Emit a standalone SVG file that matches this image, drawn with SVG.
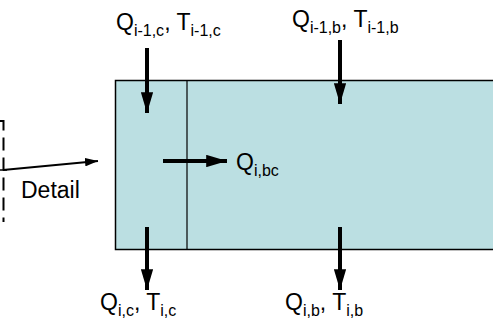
<svg xmlns="http://www.w3.org/2000/svg" width="493" height="325" viewBox="0 0 493 325">
<style>
text{font-family:"Liberation Sans",Arial,sans-serif;fill:#000}
.lbl{font-size:23px}
.sub{font-size:16px}
.thick{stroke:#000;stroke-width:4;fill:none}
.thin{stroke:#000;stroke-width:2;fill:none}
</style>
<defs>
<marker id="ah" viewBox="0 0 10 10" refX="10" refY="5" markerWidth="5.2" markerHeight="3.1" orient="auto" markerUnits="strokeWidth" preserveAspectRatio="none"><path d="M0,0L10,5L0,10z" fill="#000"/></marker>
<marker id="ahs" viewBox="0 0 10 10" refX="10" refY="5" markerWidth="6.5" markerHeight="4.2" orient="auto" markerUnits="strokeWidth" preserveAspectRatio="none"><path d="M0,0L10,5L0,10z" fill="#000"/></marker>
</defs>
<g id="volume">
<rect x="115.5" y="80.5" width="390" height="169" fill="#BBDFE2" stroke="#000" stroke-width="1.5"/>
<line x1="187" y1="80.5" x2="187" y2="249.5" stroke="#000" stroke-width="1.2"/>
</g>
<g id="detail-box">
<path d="M0,121H3.5V222" fill="none" stroke="#000" stroke-width="2" stroke-dasharray="13,7"/>
<line x1="0" y1="170" x2="7" y2="170" stroke="#000" stroke-width="1.5"/>
</g>
<g id="connectors">
<line class="thick" x1="147" y1="48" x2="147" y2="113" marker-end="url(#ah)"/>
<line class="thick" x1="340" y1="40" x2="340" y2="104" marker-end="url(#ah)"/>
<line class="thick" x1="147" y1="227" x2="147" y2="290" marker-end="url(#ah)"/>
<line class="thick" x1="340" y1="227" x2="340" y2="290" marker-end="url(#ah)"/>
<line class="thick" x1="163" y1="161" x2="227" y2="161" marker-end="url(#ah)"/>
<line class="thin" x1="3" y1="170" x2="98" y2="161" marker-end="url(#ahs)"/>
</g>
<g id="labels">
<text class="lbl" x="116" y="30">Q<tspan class="sub" dy="6">i-1,c</tspan><tspan dy="-6">, T</tspan><tspan class="sub" dy="6">i-1,c</tspan></text>
<text class="lbl" x="292" y="27">Q<tspan class="sub" dy="6">i-1,b</tspan><tspan dy="-6">, T</tspan><tspan class="sub" dy="6">i-1,b</tspan></text>
<text class="lbl" x="100" y="310">Q<tspan class="sub" dy="6">i,c</tspan><tspan dy="-6">, T</tspan><tspan class="sub" dy="6">i,c</tspan></text>
<text class="lbl" x="285" y="310">Q<tspan class="sub" dy="6">i,b</tspan><tspan dy="-6">, T</tspan><tspan class="sub" dy="6">i,b</tspan></text>
<text class="lbl" x="236" y="170">Q<tspan class="sub" dy="6">i,bc</tspan></text>
<text class="lbl" x="21" y="198">Detail</text>
</g>
</svg>
